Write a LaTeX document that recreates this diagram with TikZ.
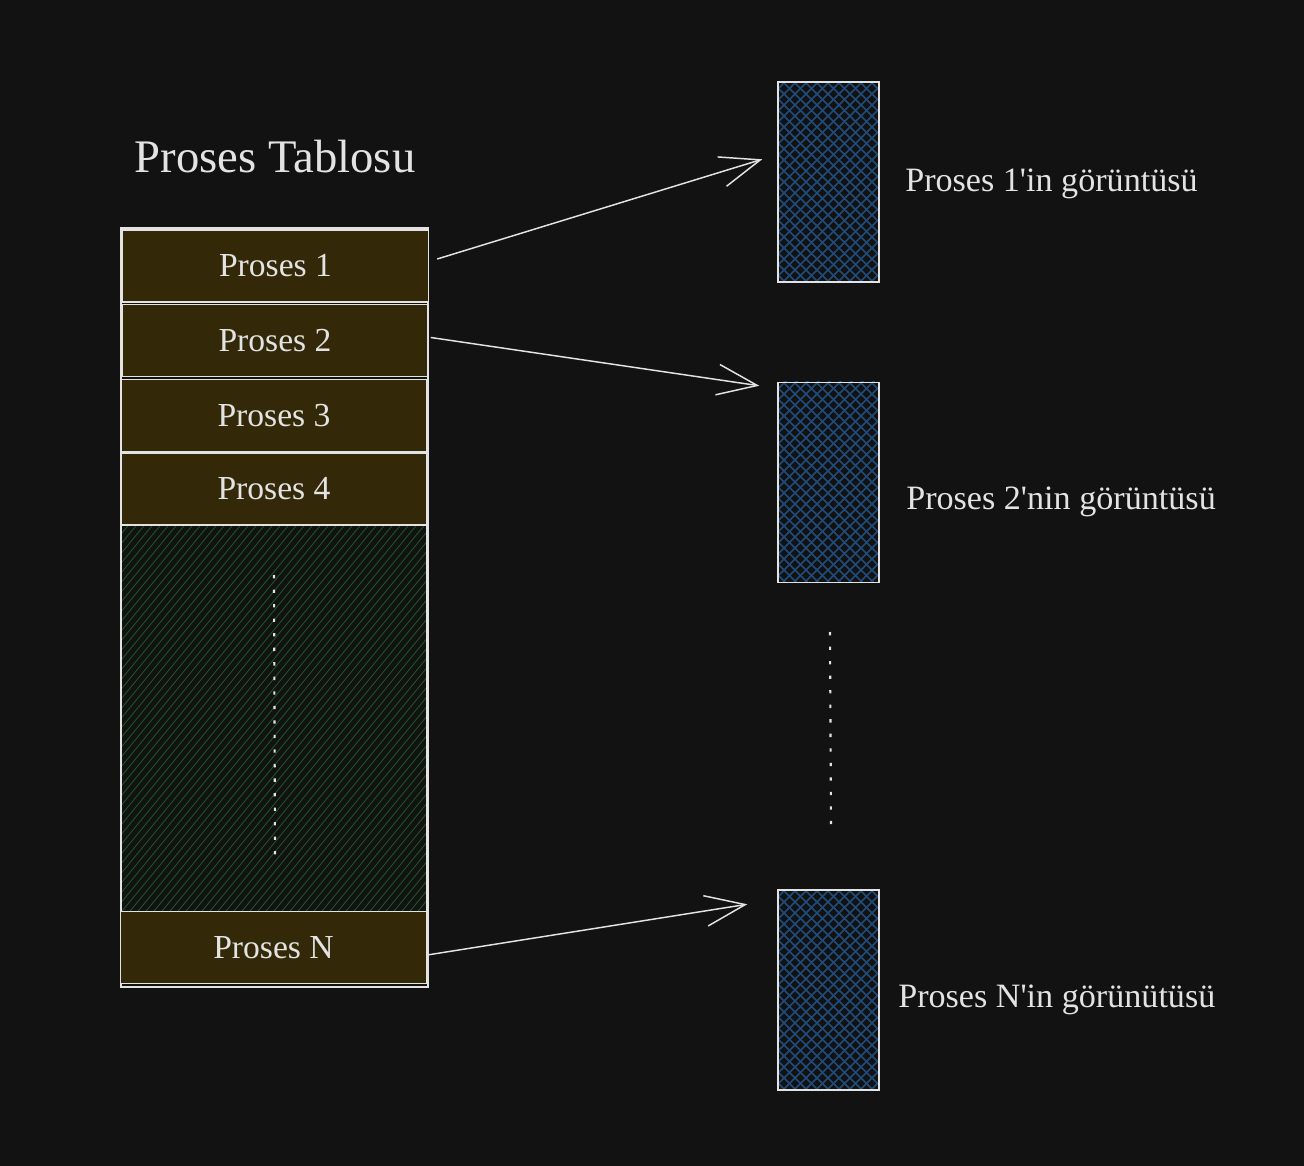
\documentclass[tikz,border=0pt]{standalone}
\usepackage{fontspec}
\setmainfont{Liberation Serif}[Ligatures=TeXOff]
\usetikzlibrary{arrows.meta}
\definecolor{bg}{HTML}{121212}
\definecolor{ink}{HTML}{E3E3E3}
\definecolor{brownfill}{HTML}{332808}
\definecolor{hatchgreen}{HTML}{1B5C23}
\definecolor{hatchblue}{HTML}{204C7C}
\tikzset{
  outline/.style={draw=ink, line width=1.1pt},
  procbox/.style={outline, fill=brownfill, minimum width=229.5pt, minimum height=54pt, inner sep=0pt,
    text=ink, font=\fontsize{25.2}{30}\selectfont},
  imgbox/.style={outline, minimum width=75.75pt, minimum height=150pt, inner sep=0pt},
  lbl/.style={text=ink, font=\fontsize{25.6}{30}\selectfont, anchor=west, inner sep=0pt},
  conn/.style={draw=ink, line width=1.1pt, -{Straight Barb[length=30pt,width=23pt]}},
  dots/.style={draw=ink, line width=1.6pt, dash pattern=on 2.5pt off 8.4pt},
  ghatch/.style={draw=hatchgreen, line width=0.6pt},
  bhatch/.style={draw=hatchblue, line width=1.1pt},
}
\begin{document}
\begin{tikzpicture}[x=0.75pt, y=-0.75pt]
\fill[bg] (0,0) rectangle (1304,1166);
\useasboundingbox (0,0) rectangle (1304,1166);

% title
\node[text=ink, font=\fontsize{35}{42}\selectfont, inner sep=0pt] (title) at (275,157) {Proses Tablosu};

% green hatched gap
\node[inner sep=0pt, minimum width=228.75pt, minimum height=289.5pt] (gap) at (273.5,719) {};
\begin{scope}
  \clip (gap.south west) rectangle (gap.north east);
  \foreach \a in {-330,-322,...,430} \draw[ghatch] (\a,916) -- ++(330,-400);
\end{scope}
\draw[outline] (gap.south west) rectangle (gap.north east);

% outer table
\node[outline, minimum width=230.25pt, minimum height=569.25pt, inner sep=0pt] (table) at (274.5,607.5) {};

% process boxes
\node[procbox] (p1) at (275.5,266) {Proses 1};
\node[procbox] (p2) at (275,340.5) {Proses 2};
\node[procbox] (p3) at (274,415.5) {Proses 3};
\node[procbox] (p4) at (274,489) {Proses 4};
\node[procbox] (pN) at (273.5,947.5) {Proses N};

% dotted line left
\coordinate (dl1) at (274,575);
\coordinate (dl2) at (275,855);
\draw[dots] (dl1) -- (dl2);

% image boxes with cross hatching
\foreach \y in {82,382,890}{
  \begin{scope}
    \clip (778,\y) rectangle (879,\y+200);
    \foreach \k in {-215,-204,...,110}{
      \draw[bhatch] (778+\k,\y+200) -- ++(215,-215);
      \draw[bhatch] (778+\k,\y) -- ++(215,215);
    }
  \end{scope}
}
\node[imgbox] (i1) at (828.5,182) {};
\node[imgbox] (i2) at (828.5,482.5) {};
\node[imgbox] (iN) at (828.5,990) {};

% labels
\node[lbl] (l1) at (905,184) {Proses 1'in görüntüsü};
\node[lbl] (l2) at (906,502) {Proses 2'nin görüntüsü};
\node[lbl] (lN) at (898,1000) {Proses N'in görünütüsü};

% dotted line right
\coordinate (dr1) at (830,632);
\coordinate (dr2) at (831,824);
\draw[dots] (dr1) -- (dr2);

% connectors
\draw[conn] ([shift={(8,-7)}]p1.east) -- ([shift={(-15,78)}]i1.north west);
\draw[conn] ([shift={(2,-3)}]p2.east) -- ([shift={(-18,4)}]i2.north west);
\draw[conn] ([shift={(0,7.5)}]pN.east) -- ([shift={(-30,15)}]iN.north west);
\end{tikzpicture}
\end{document}
